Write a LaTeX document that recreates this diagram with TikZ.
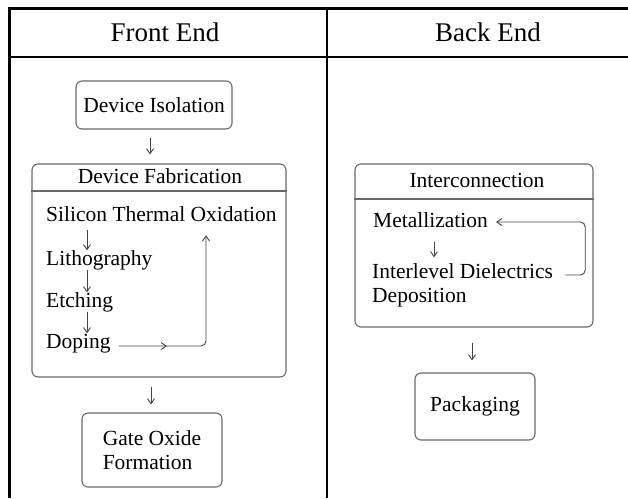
\documentclass[tikz,border=0pt]{standalone}
\usepackage{fontspec}
\setmainfont{Liberation Serif}
\newfontfamily\tnr{Liberation Serif}
\usetikzlibrary{arrows.meta,decorations.markings}

\definecolor{boxline}{HTML}{6A6A6A}
\definecolor{arrowline}{HTML}{444444}

\tikzset{
  headtext/.style={font=\tnr\fontsize{27}{30}\selectfont, inner sep=0pt},
  steptext/.style={font=\tnr\fontsize{21.5}{24}\selectfont, inner sep=0pt,
                   text height=15pt, text depth=4pt, anchor=west},
  stagebox/.style={draw=boxline, line width=1.1pt, rounded corners=6pt,
                   font=\tnr\fontsize{21.5}{24}\selectfont, inner sep=0pt},
  tablerule/.style={draw=black, line width=1.6pt},
  flow/.style={draw=arrowline, line width=0.9pt,
               -{Straight Barb[length=5pt,width=7pt]}},
  loopline/.style={draw=arrowline, line width=0.9pt, rounded corners=5pt},
  midtip/.style={postaction=decorate, decoration={markings,
     mark=at position #1 with {\arrow{Straight Barb[length=5pt,width=7pt]}}}},
}

\begin{document}
\begin{tikzpicture}[x=1pt, y=-1pt]
\useasboundingbox (0,0) rectangle (628,498);
\fill[white] (0,0) rectangle (628,498);

% table frame
\draw[tablerule, line width=3pt] (9.5,498) -- (9.5,8) -- (628,8);
\draw[tablerule] (9.5,57) -- (628,57);
\draw[tablerule] (327,8) -- (327,498);

% column headings
\node[headtext] (front) at (165,32) {Front End};
\node[headtext] (back)  at (488,32) {Back End};

% ---- front end ----
\node[stagebox, minimum width=156pt, minimum height=48pt] (iso) at (154,105) {Device Isolation};

\node[stagebox, minimum width=254pt, minimum height=213pt] (fab) at (159,270.5) {};
\node[steptext, anchor=center] (fabt) at (160,178) {Device Fabrication};
\draw[draw=boxline, line width=1.1pt] (fab.west |- 0,191) -- (fab.east |- 0,191);

\node[steptext] (sto) at (46,216) {Silicon Thermal Oxidation};
\node[steptext] (lit) at (46,260) {Lithography};
\node[steptext] (etc) at (46,302) {Etching};
\node[steptext] (dop) at (46,343) {Doping};

\draw[flow, shorten <=4pt] (sto.south -| 87,0) -- (lit.north -| 87,0);
\draw[flow] (lit.south -| 87,0) -- (etc.north -| 87,0);
\draw[flow] (etc.south -| 87,0) -- (dop.north -| 87,0);
\draw[loopline, midtip=48pt, -{Straight Barb[length=5pt,width=7pt]}]
  ([xshift=8pt,yshift=-3pt]dop.east) -| ([yshift=-9.5pt]sto.south -| 206,0);

\node[stagebox, minimum width=140pt, minimum height=74pt, align=left] (gate) at (152,450)
  {Gate Oxide\\Formation};

\draw[flow, shorten <=8pt, shorten >=9pt] (iso.south -| 150,0) -- (fab.north -| 150,0);
\draw[flow, shorten <=9pt, shorten >=8pt] (fab.south -| 151,0) -- (gate.north -| 151,0);

% ---- back end ----
\node[stagebox, minimum width=238pt, minimum height=163pt] (inter) at (474,245.5) {};
\node[steptext, anchor=center] (intert) at (477,182) {Interconnection};
\draw[draw=boxline, line width=1.1pt] (inter.west |- 0,199) -- (inter.east |- 0,199);

\node[steptext] (met) at (373,222) {Metallization};
\node[steptext] (ild) at (372,273) {Interlevel Dielectrics};
\node[steptext] (dep) at (372,297) {Deposition};

\draw[flow, shorten <=10pt, shorten >=6pt] (met.south -| 434,0) -- (ild.north -| 434,0);
\draw[loopline, -{Straight Barb[length=5pt,width=7pt]}]
  ([xshift=12pt,yshift=-2pt]ild.east) -- ++(20,0) |- ([xshift=8pt]met.east);

\node[stagebox, minimum width=120pt, minimum height=67pt] (pack) at (475,406.5) {Packaging};

\draw[flow, shorten <=15pt, shorten >=12pt] (inter.south -| 472,0) -- (pack.north -| 472,0);
\end{tikzpicture}
\end{document}
